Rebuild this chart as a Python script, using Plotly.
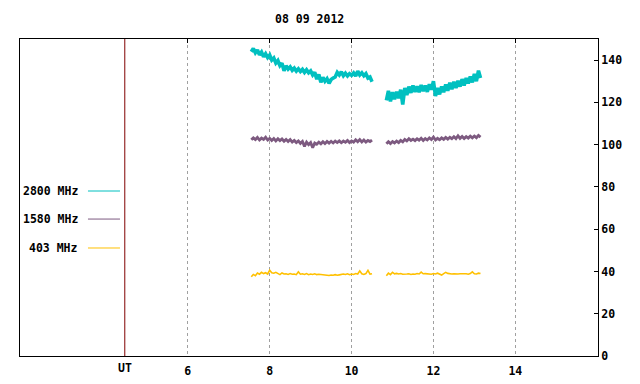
import plotly.graph_objects as go

# ---- data (hours UT, solar flux units) ----
t1 = [7.55, 7.60, 7.65, 7.70, 7.75, 7.80, 7.85, 7.90, 7.95, 8.00,
      8.05, 8.10, 8.15, 8.20, 8.25, 8.30, 8.35, 8.40, 8.45, 8.50,
      8.55, 8.60, 8.65, 8.70, 8.75, 8.80, 8.85, 8.90, 8.95, 9.00,
      9.05, 9.10, 9.15, 9.20, 9.25, 9.30, 9.35, 9.40, 9.45, 9.50,
      9.55, 9.60, 9.65, 9.70, 9.75, 9.80, 9.85, 9.90, 9.95, 10.00,
      10.05, 10.10, 10.15, 10.20, 10.25, 10.30, 10.35, 10.40, 10.45, 10.50]
t2 = [10.85, 10.90, 10.95, 11.00, 11.05, 11.10, 11.15, 11.20, 11.25, 11.30,
      11.35, 11.40, 11.45, 11.50, 11.55, 11.60, 11.65, 11.70, 11.75, 11.80,
      11.85, 11.90, 11.95, 12.00, 12.05, 12.10, 12.15, 12.20, 12.25, 12.30,
      12.35, 12.40, 12.45, 12.50, 12.55, 12.60, 12.65, 12.70, 12.75, 12.80,
      12.85, 12.90, 12.95, 13.00, 13.05, 13.10, 13.15]

f2800_a = [144.0, 145.5, 143.5, 144.8, 142.5, 143.8, 141.6, 143.0, 141.2, 142.4,
           140.0, 141.0, 138.6, 139.8, 137.4, 138.5, 135.0, 137.3, 135.8, 136.8,
           135.2, 136.2, 134.8, 135.9, 134.6, 135.6, 134.2, 135.4, 134.0, 134.9,
           133.0, 134.2, 131.0, 133.2, 129.5, 131.8, 130.0, 131.2, 129.0, 130.8,
           131.5, 132.0, 134.2, 133.0, 134.5, 132.6, 133.8, 132.5, 133.6, 132.8,
           133.9, 132.5, 134.8, 133.0, 134.0, 132.6, 133.6, 131.5, 132.0, 129.8]
f2800_b = [121.0, 125.5, 120.5, 124.8, 121.5, 125.0, 122.0, 126.0, 119.0, 126.8,
           123.5, 127.5, 124.5, 128.0, 125.0, 127.6, 124.8, 128.2, 125.3, 128.0,
           125.0, 128.6, 126.0, 130.0, 123.0, 126.8, 123.8, 127.5, 124.8, 128.5,
           125.5, 129.3, 126.2, 129.8, 126.8, 130.2, 127.5, 131.0, 128.0, 131.5,
           129.0, 132.2, 129.5, 133.5, 130.0, 135.0, 131.5]

f1580_a = [102.3, 103.2, 102.4, 103.4, 102.2, 103.1, 102.5, 103.5, 102.2, 103.0,
           102.0, 102.9, 101.8, 102.8, 101.9, 102.7, 101.6, 102.5, 101.5, 102.4,
           101.2, 102.0, 101.0, 101.8, 100.6, 101.5, 99.2, 101.2, 100.0, 101.0,
           98.6, 100.8, 100.2, 101.2, 100.4, 101.4, 100.5, 101.5, 100.7, 101.6,
           100.8, 101.7, 101.0, 101.8, 100.9, 101.7, 101.1, 102.0, 101.0, 101.8,
           101.2, 102.3, 101.4, 102.4, 101.3, 102.2, 101.2, 102.0, 101.5, 102.2]
f1580_b = [100.4, 101.4, 100.5, 101.5, 100.8, 101.7, 101.0, 102.0, 101.3, 102.5,
           101.8, 102.8, 102.0, 102.6, 101.9, 102.8, 102.1, 103.0, 102.0, 102.9,
           102.2, 103.2, 102.4, 103.6, 102.2, 103.0, 102.3, 103.2, 102.5, 103.4,
           102.6, 103.5, 102.8, 103.8, 102.9, 104.2, 103.0, 103.9, 102.9, 103.8,
           103.1, 104.0, 103.2, 104.1, 103.3, 104.4, 103.6]

f403_a = [37.5, 38.6, 38.0, 39.3, 38.7, 39.6, 39.0, 39.4, 38.8, 40.6,
          39.4, 39.2, 39.6, 39.0, 38.5, 39.3, 38.8, 38.9, 38.6, 39.0,
          38.7, 38.8, 38.5, 39.8, 38.7, 38.9, 38.6, 39.0, 38.5, 38.8,
          38.6, 38.9, 38.5, 38.7, 38.6, 38.5, 38.2, 38.4, 38.1, 38.3,
          38.2, 38.5, 38.2, 38.4, 38.6, 38.8, 38.6, 38.9, 38.5, 38.8,
          38.6, 39.0, 38.8, 40.3, 38.9, 38.6, 39.0, 40.5, 38.7, 38.9]
f403_b = [38.0, 39.2, 38.5, 39.6, 38.9, 39.1, 38.8, 39.0, 38.7, 38.9,
          38.8, 38.9, 38.6, 38.8, 38.7, 39.0, 38.8, 39.7, 38.9, 39.0,
          38.8, 38.9, 38.7, 39.0, 38.8, 39.2, 38.6, 38.3, 39.0, 39.6,
          39.1, 38.9, 38.8, 38.9, 38.7, 38.8, 38.9, 39.0, 38.8, 38.9,
          38.7, 39.0, 39.8, 38.9, 38.8, 39.2, 39.0]

x_ticks = [6, 8, 10, 12, 14]
y_ticks = [0, 20, 40, 60, 80, 100, 120, 140]
ut_pos = 4.46
title = "08 09 2012"
legend_labels = ["2800 MHz", "1580 MHz", "403 MHz"]
colors = ["#00C0C0", "#7D5A80", "#FFC000"]
widths = [3.6, 2.8, 1.6]

FONT = "DejaVu Sans Mono"
TF = dict(family=FONT, size=11.5, weight="bold", color="black")

fig = go.Figure()
series = [(f2800_a, f2800_b), (f1580_a, f1580_b), (f403_a, f403_b)]
for (a, b), c, w in zip(series, colors, widths):
    fig.add_trace(go.Scatter(x=t1 + [None] + t2, y=a + [None] + b, mode="lines",
                             line=dict(color=c, width=w), connectgaps=False,
                             showlegend=False, hoverinfo="skip"))

fig.update_layout(
    width=640, height=384,
    margin=dict(l=20, r=42, t=39, b=28, autoexpand=False),
    paper_bgcolor="white", plot_bgcolor="white",
    showlegend=False,
    font=dict(family=FONT, size=11.5, color="black"),
    xaxis=dict(range=[1.9, 16.02], tickvals=x_ticks, ticktext=[str(v) for v in x_ticks],
               showgrid=True, gridcolor="#A0A0A0", griddash="dot", gridwidth=1,
               zeroline=False, showline=True, linecolor="black", linewidth=1, mirror=True,
               ticks="", tickfont=TF, automargin=False, ticklabelstandoff=4),
    yaxis=dict(range=[0, 150], tickvals=y_ticks, side="right",
               showgrid=False, zeroline=False, showline=True, linecolor="black",
               linewidth=1, mirror=True, ticks="inside", ticklen=4, tickcolor="black",
               tickfont=TF, automargin=False),
    xaxis2=dict(overlaying="x", matches="x", side="top", tickvals=x_ticks,
                showticklabels=False, ticks="inside", ticklen=4,
                tickcolor="black", showgrid=False, zeroline=False,
                showline=False, automargin=False),
)
fig.add_trace(go.Scatter(x=[None], y=[None], xaxis="x2", showlegend=False, hoverinfo="skip"))

# UT line
fig.add_shape(type="line", x0=ut_pos, x1=ut_pos, y0=0, y1=1, xref="x", yref="paper",
              line=dict(color="#800000", width=1))
fig.add_annotation(x=ut_pos, y=0, xref="x", yref="paper", yshift=-12, yanchor="middle",
                   text="UT", showarrow=False, font=TF)

# title
fig.add_annotation(x=0.5, y=1, xref="paper", yref="paper", yshift=20, yanchor="middle",
                   text=title, showarrow=False, font=TF)

# legend
leg_y = [0.5205, 0.432, 0.3407]
for lab, c, yy in zip(legend_labels, colors, leg_y):
    fig.add_annotation(x=0.1038, y=yy, xref="paper", yref="paper", xanchor="right",
                       yanchor="middle", text=lab, showarrow=False, font=TF)
    fig.add_shape(type="line", x0=0.1176, x1=0.173, y0=yy, y1=yy, xref="paper",
                  yref="paper", line=dict(color=c, width=1))

fig.write_html("out.html", config={"displayModeBar": False},
               post_script="document.body.style.margin='0';")
